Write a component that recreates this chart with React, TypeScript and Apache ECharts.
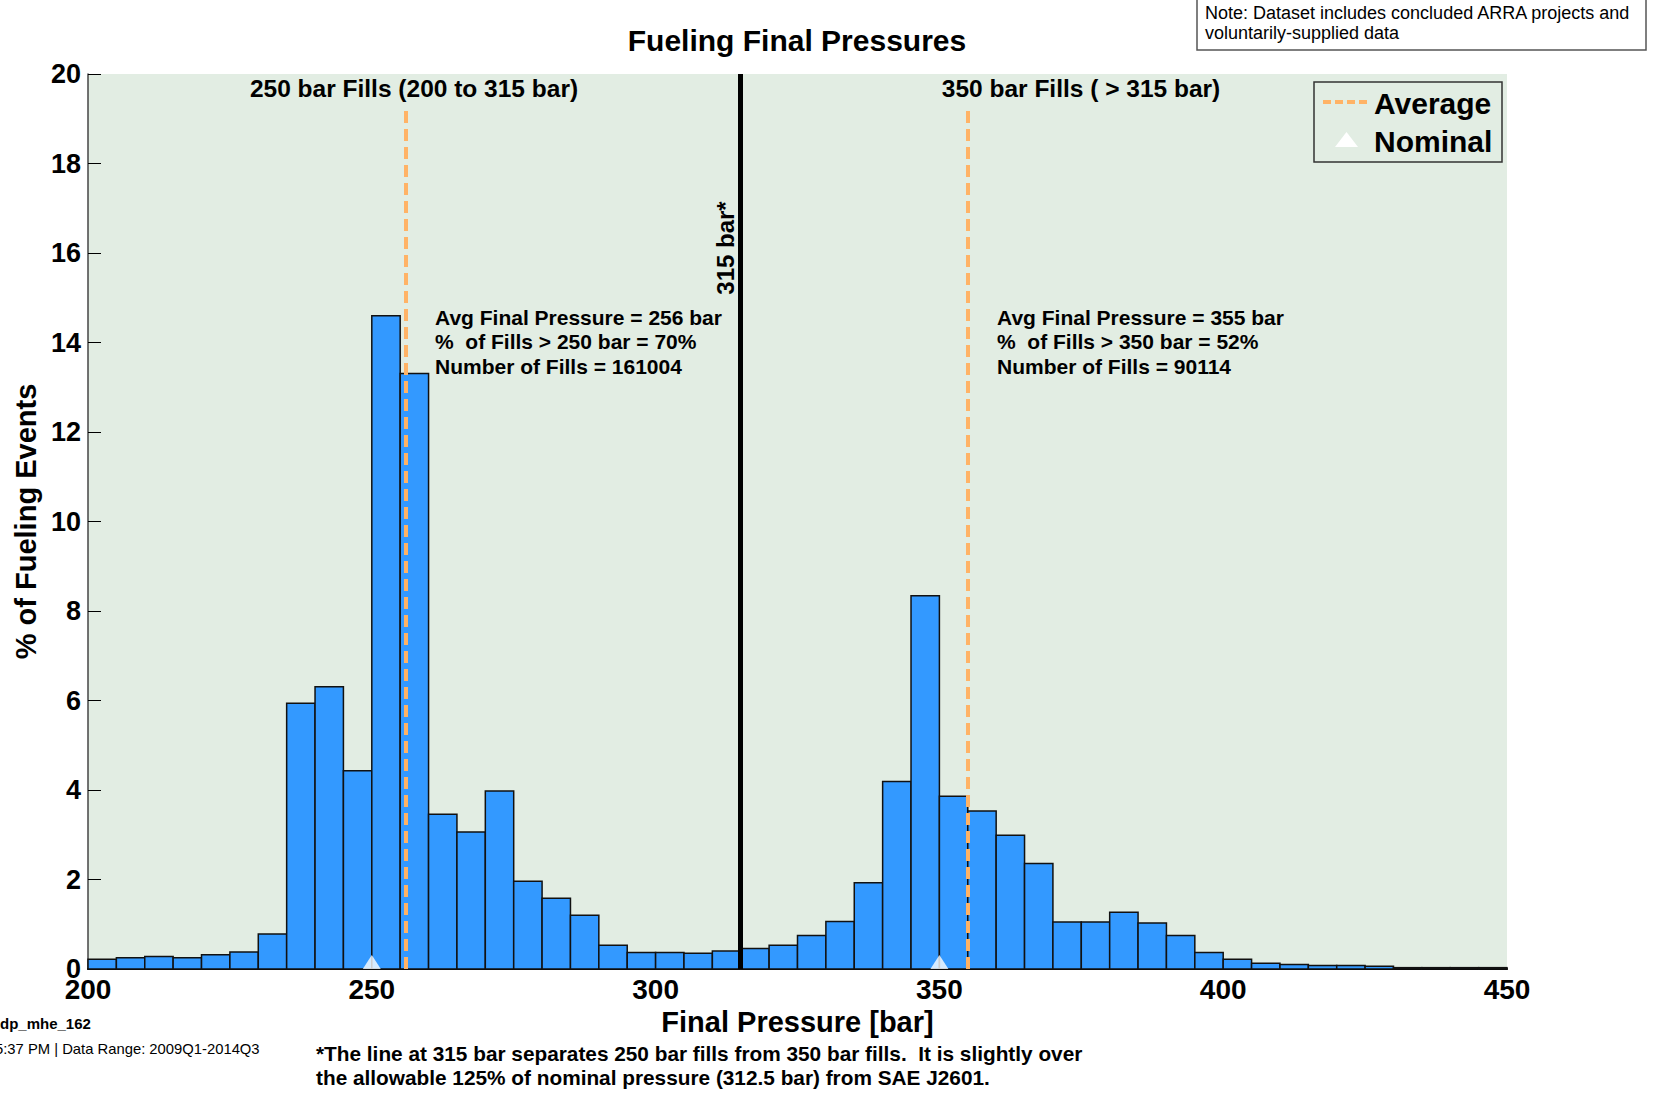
import React, { useEffect, useRef } from "react";
import * as echarts from "echarts";

const FONT = "'Liberation Sans', Arial, Helvetica, sans-serif";

const binStarts = [
  200, 205, 210, 215, 220, 225, 230, 235, 240, 245,
  250, 255, 260, 265, 270, 275, 280, 285, 290, 295,
  300, 305, 310, 315, 320, 325, 330, 335, 340, 345,
  350, 355, 360, 365, 370, 375, 380, 385, 390, 395,
  400, 405, 410, 415, 420, 425, 430, 435, 440, 445,
];
const binWidth = 5;
const percentFills = [
  0.22, 0.25, 0.28, 0.25, 0.32, 0.38, 0.78, 5.94, 6.31, 4.43,
  14.6, 13.31, 3.46, 3.06, 3.98, 1.96, 1.58, 1.2, 0.53, 0.37,
  0.37, 0.35, 0.4, 0.46, 0.53, 0.75, 1.06, 1.93, 4.19, 8.34,
  3.86, 3.53, 2.99, 2.36, 1.05, 1.05, 1.27, 1.03, 0.75, 0.37,
  0.22, 0.13, 0.1, 0.08, 0.08, 0.06, 0.03, 0.03, 0.03, 0.03,
];
const averagePressures = [256, 355];
const averageLineTop = 19.3;
const nominalPressures = [250, 350];
const separatorPressure = 315;
const xTicks = { min: 200, max: 450, interval: 50 };
const yTicks = { min: 0, max: 20, interval: 2 };

const leftStats = [
  "Avg Final Pressure = 256 bar",
  "%  of Fills > 250 bar = 70%",
  "Number of Fills = 161004",
];
const rightStats = [
  "Avg Final Pressure = 355 bar",
  "%  of Fills > 350 bar = 52%",
  "Number of Fills = 90114",
];

export default function App() {
  const ref = useRef<HTMLDivElement>(null);

  useEffect(() => {
    if (!ref.current) return;
    const chart = echarts.init(ref.current, null, { renderer: "svg" });

    const barData = binStarts.map((s, i) => [s, s + binWidth, percentFills[i]]);

    const boldText = (text: string, x: number, y: number, size: number, align = "left", extra: any = {}) => ({
      type: "text",
      x,
      y,
      z: 100,
      ...extra,
      style: {
        text,
        fill: "#000",
        font: `bold ${size}px ${FONT}`,
        textAlign: align,
        textVerticalAlign: "middle",
      },
    });
    const plainText = (text: string, x: number, y: number, size: number) => ({
      type: "text",
      x,
      y,
      z: 100,
      style: {
        text,
        fill: "#000",
        font: `${size}px ${FONT}`,
        textAlign: "left",
        textVerticalAlign: "middle",
      },
    });

    const option: any = {
      animation: false,
      backgroundColor: "#ffffff",
      title: {
        text: "Fueling Final Pressures",
        left: 792,
        top: 20,
        textAlign: "center",
        textStyle: { fontFamily: FONT, fontWeight: "bold", fontSize: 30, color: "#000" },
      },
      grid: {
        left: 88,
        top: 74,
        width: 1419,
        height: 895,
        show: true,
        backgroundColor: "#E2EDE3",
        borderWidth: 0,
      },
      xAxis: {
        type: "value",
        min: xTicks.min,
        max: xTicks.max,
        interval: xTicks.interval,
        name: "Final Pressure [bar]",
        nameLocation: "middle",
        nameGap: 32,
        nameTextStyle: { fontFamily: FONT, fontWeight: "bold", fontSize: 29, color: "#000" },
        axisLine: { show: true, lineStyle: { color: "#000", width: 2 } },
        axisTick: { show: false },
        splitLine: { show: false },
        axisLabel: { fontFamily: FONT, fontWeight: "bold", fontSize: 28, color: "#000", margin: 6 },
      },
      yAxis: {
        type: "value",
        min: yTicks.min,
        max: yTicks.max,
        interval: yTicks.interval,
        name: "% of Fueling Events",
        nameLocation: "middle",
        nameGap: 47,
        nameTextStyle: { fontFamily: FONT, fontWeight: "bold", fontSize: 29, color: "#000" },
        axisLine: { show: true, lineStyle: { color: "#444", width: 1.5 } },
        axisTick: { show: true, inside: true, length: 13, lineStyle: { color: "#000", width: 1 } },
        splitLine: { show: false },
        axisLabel: { fontFamily: FONT, fontWeight: "bold", fontSize: 27, color: "#000", margin: 7 },
      },
      series: [
        {
          name: "Fills",
          type: "custom",
          data: barData,
          encode: { x: [0, 1], y: 2 },
          z: 2,
          renderItem: (params: any, api: any) => {
            const p0 = api.coord([api.value(0), 0]);
            const p1 = api.coord([api.value(1), api.value(2)]);
            return {
              type: "rect",
              shape: { x: p0[0], y: p1[1], width: p1[0] - p0[0], height: p0[1] - p1[1] },
              style: { fill: "#3399FF", stroke: "#111", lineWidth: 1.5 },
            };
          },
        },
        {
          name: "Average",
          type: "line",
          data: [],
          z: 5,
          markLine: {
            silent: true,
            symbol: "none",
            label: { show: false },
            lineStyle: { color: "#FFB366", width: 4, type: [12, 6] },
            data: averagePressures.map((p) => [
              { coord: [p, 0] },
              { coord: [p, averageLineTop] },
            ]),
          },
        },
        {
          name: "Separator",
          type: "line",
          data: [],
          z: 6,
          markLine: {
            silent: true,
            symbol: "none",
            label: { show: false },
            lineStyle: { color: "#000", width: 5, type: "solid" },
            data: [[{ coord: [separatorPressure, 0] }, { coord: [separatorPressure, yTicks.max] }]],
          },
        },
        {
          name: "Nominal",
          type: "scatter",
          data: nominalPressures.map((p) => [p, 0]),
          symbol: "triangle",
          symbolSize: [18, 14],
          symbolOffset: [0, -7],
          itemStyle: { color: "#ffffff" },
          z: 10,
        },
      ],
      graphic: [
        // note box
        {
          type: "rect",
          z: 99,
          shape: { x: 1197, y: -2, width: 449, height: 52 },
          style: { fill: "#fff", stroke: "#555", lineWidth: 1.5 },
        },
        plainText("Note: Dataset includes concluded ARRA projects and", 1205, 13, 18),
        plainText("voluntarily-supplied data", 1205, 33, 18),
        // section headers
        boldText("250 bar Fills (200 to 315 bar)", 414, 88, 24.5, "center"),
        boldText("350 bar Fills ( > 315 bar)", 1081, 88, 24.5, "center"),
        // stats
        ...leftStats.map((t, i) => boldText(t, 435, 317 + i * 24.5, 21)),
        ...rightStats.map((t, i) => boldText(t, 997, 317 + i * 24.5, 21)),
        // separator label
        boldText("315 bar*", 725, 248, 24, "center", { rotation: Math.PI / 2 }),
        // legend
        {
          type: "rect",
          z: 99,
          shape: { x: 1314, y: 82, width: 188, height: 80 },
          style: { fill: "none", stroke: "#333", lineWidth: 1.5 },
        },
        {
          type: "line",
          z: 100,
          shape: { x1: 1323, y1: 102, x2: 1368, y2: 102 },
          style: { stroke: "#FFB366", lineWidth: 4, lineDash: [8, 4] },
        },
        {
          type: "polygon",
          z: 100,
          shape: { points: [[1335, 147], [1358, 147], [1346.5, 132]] },
          style: { fill: "#fff" },
        },
        boldText("Average", 1374, 103, 30),
        boldText("Nominal", 1374, 141, 30),
        // footer
        boldText("dp_mhe_162", 0, 1023, 15),
        plainText("5:37 PM | Data Range: 2009Q1-2014Q3", -5, 1049, 14.8),
        boldText("*The line at 315 bar separates 250 bar fills from 350 bar fills.  It is slightly over", 316, 1053, 20.8),
        boldText("the allowable 125% of nominal pressure (312.5 bar) from SAE J2601.", 316, 1077, 20.8),
      ],
    };

    chart.setOption(option);
    return () => chart.dispose();
  }, []);

  return (
    <div
      ref={ref}
      style={{ position: "absolute", left: 0, top: 0, width: 1653, height: 1096 }}
    />
  );
}
